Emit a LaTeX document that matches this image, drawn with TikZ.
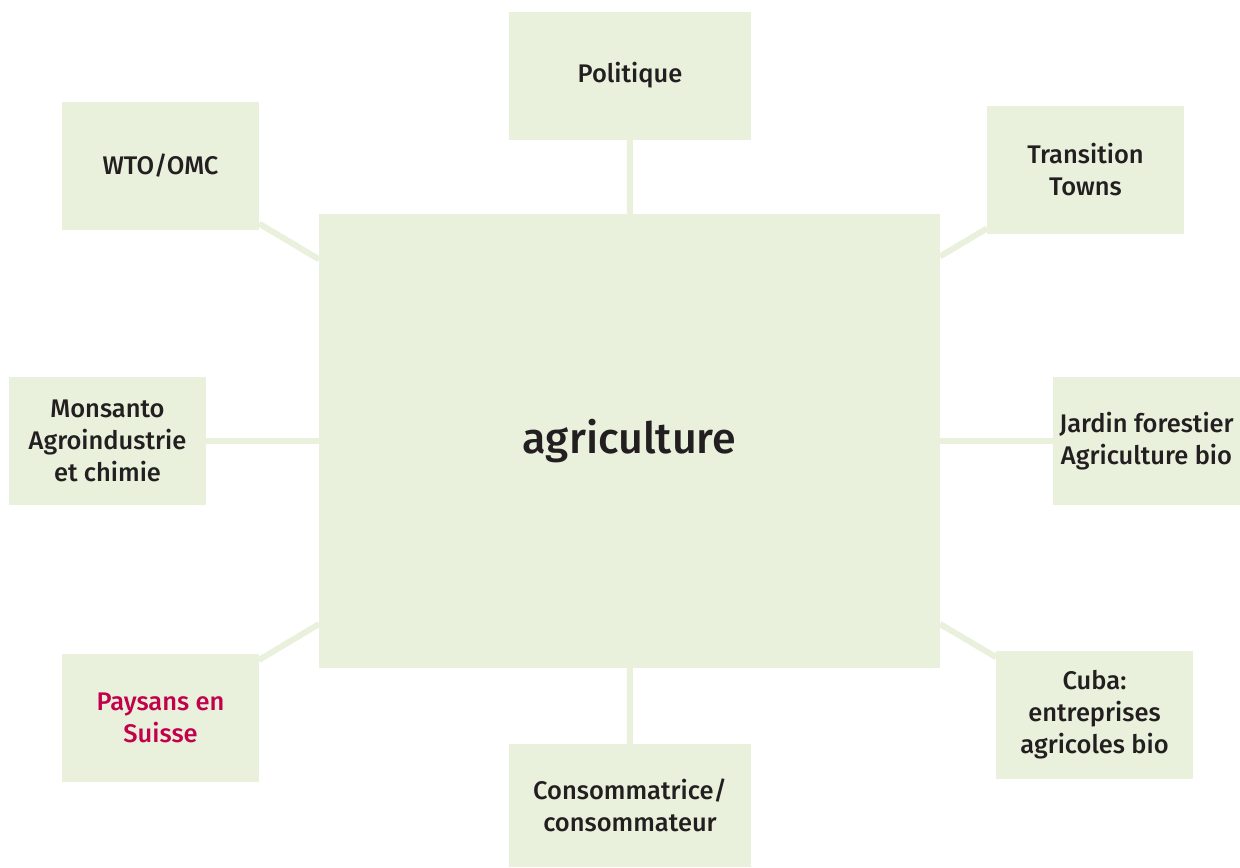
\documentclass[tikz,border=0pt]{standalone}
\usepackage{fontspec}
\setmainfont{Fira Sans}[UprightFont={* Medium}]
\definecolor{boxgreen}{HTML}{E9F0DC}
\definecolor{inkdark}{HTML}{231F20}
\definecolor{swissred}{HTML}{C2004B}
\begin{document}
\begin{tikzpicture}[boxStyle/.style={rectangle, fill=boxgreen, inner sep=0pt, outer sep=0pt, align=center, text=inkdark, font=\fontsize{14.5}{18.2}\selectfont, minimum width=3.94cm, minimum height=2.56cm},
                    wideBox/.style={boxStyle, minimum width=4.84cm},
                    linkStyle/.style={draw=boxgreen, line width=0.12cm}]
                    \useasboundingbox (0,0) rectangle (24.8,-17.34);
                    \node[boxStyle, minimum width=12.42cm, minimum height=9.08cm, font=\fontsize{24.5}{28}\selectfont](agri) at (12.59, -8.82) {agriculture};
                    \node[wideBox](pol) at (12.6, -1.51) {Politique};
                    \node[boxStyle](wto) at (3.21, -3.32) {WTO/OMC};
                    \node[boxStyle](trans) at (21.71, -3.40) {Transition\\Towns};
                    \node[boxStyle](mons) at (2.15, -8.82) {Monsanto\\Agroindustrie\\et chimie};
                    \node[boxStyle, minimum width=3.74cm](jardin) at (22.93, -8.82) {Jardin forestier\\Agriculture bio};
                    \node[boxStyle, text=swissred](pays) at (3.21, -14.36) {Paysans en\\Suisse};
                    \node[wideBox, minimum height=2.46cm](cons) at (12.6, -16.11) {Consommatrice/\\consommateur};
                    \node[boxStyle](cuba) at (21.89, -14.30) {Cuba:\\entreprises\\agricoles bio};

                    \draw[linkStyle] (agri) -- (pol);
                    \draw[linkStyle] (agri) -- (wto);
                    \draw[linkStyle] (agri) -- (trans);
                    \draw[linkStyle] (agri) -- (mons);
                    \draw[linkStyle] (agri) -- (jardin);
                    \draw[linkStyle] (agri) -- (pays);
                    \draw[linkStyle] (agri) -- (cons);
                    \draw[linkStyle] (agri) -- (cuba);
                \end{tikzpicture}
\end{document}
